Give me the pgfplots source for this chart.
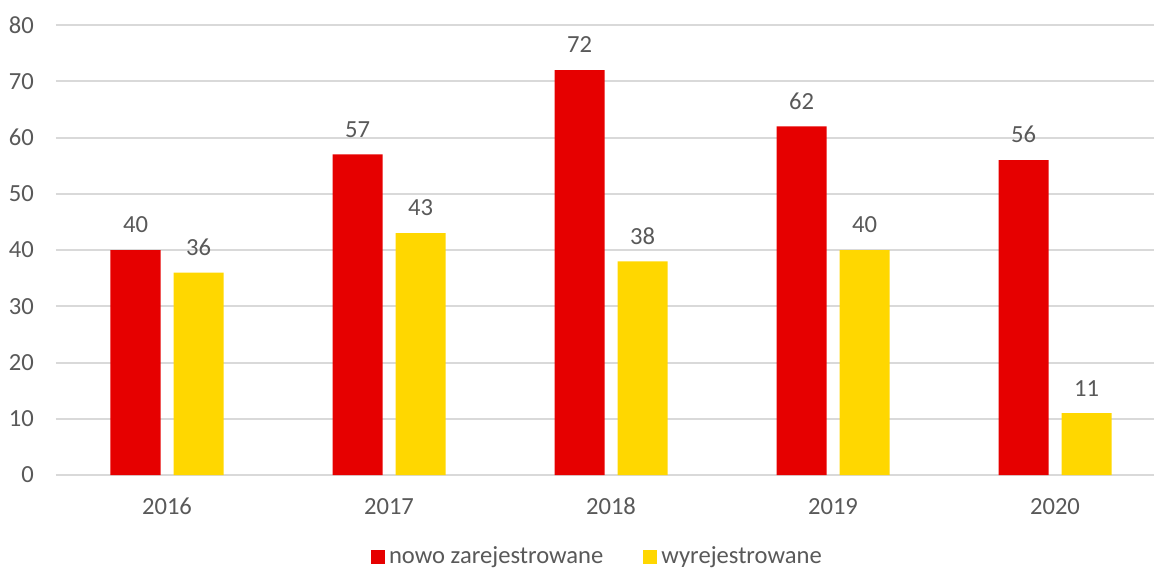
\documentclass[border=0pt]{standalone}
\usepackage{pgfplots}
\pgfplotsset{compat=1.18}
\usepackage{fontspec}
\setmainfont{Carlito}
\definecolor{czerwony}{HTML}{E60000}
\definecolor{zolty}{HTML}{FFD700}
\definecolor{tekst}{HTML}{595959}
\definecolor{siatka}{HTML}{D9D9D9}
\begin{document}
\begin{tikzpicture}
\begin{axis}[
    scale only axis,
    width=549pt, height=225pt,
    /pgf/number format/assume math mode=true,
    ybar=6.5pt, bar width=25pt,
    xmin=-0.5, xmax=4.446,
    ymin=0, ymax=80,
    xtick={0,1,2,3,4},
    xticklabels={2016,2017,2018,2019,2020},
    ytick={0,10,...,80},
    ymajorgrids=true,
    grid style={draw=siatka, line width=1pt},
    axis line style={draw=none},
    major tick length=0pt,
    tick style={draw=none},
    ticklabel style={font=\fontsize{12.3}{14}\selectfont, text=tekst},
    xticklabel style={yshift=-8pt},
    yticklabel style={xshift=-7.5pt},
    nodes near coords,
    nodes near coords style={font=\fontsize{12.3}{14}\selectfont, text=tekst, yshift=5pt},
    legend columns=2,
    legend style={draw=none, at={(axis description cs:0.494,0)}, yshift=-41pt, anchor=center,
        font=\fontsize{12.3}{14}\selectfont, text=tekst,
        /tikz/every even column/.append style={column sep=18pt}},
    legend image code/.code={\path[#1, draw=none] (0pt,-3.5pt) rectangle (7pt,3.5pt);},
]
\addplot[fill=czerwony, draw=none] coordinates {(0,40) (1,57) (2,72) (3,62) (4,56)};
\addplot[fill=zolty, draw=none] coordinates {(0,36) (1,43) (2,38) (3,40) (4,11)};
\legend{nowo zarejestrowane, wyrejestrowane}
\end{axis}
\pgfresetboundingbox
\path[use as bounding box] ([xshift=-28pt,yshift=-47pt]current axis.south west) rectangle ([yshift=12.5pt]current axis.north east);
\end{tikzpicture}
\end{document}
